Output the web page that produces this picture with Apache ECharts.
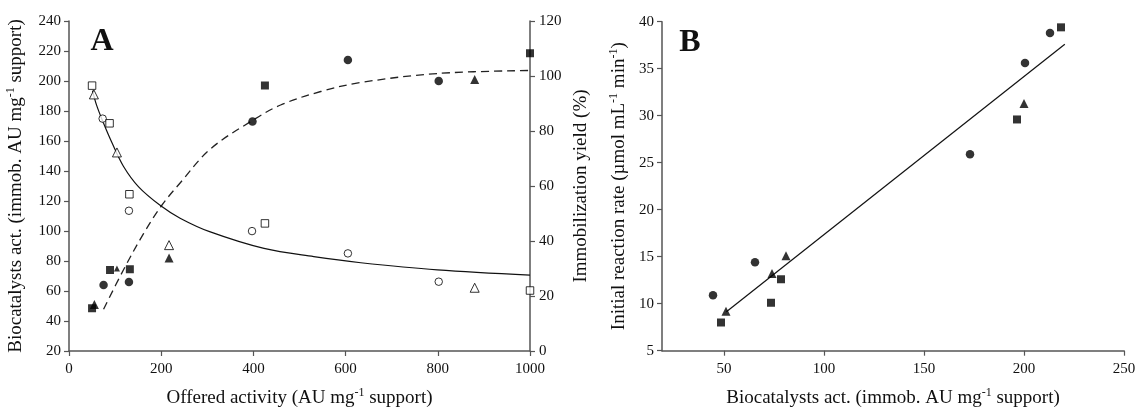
<!DOCTYPE html>
<html>
<head>
<meta charset="utf-8">
<script src="https://cdn.jsdelivr.net/npm/echarts@6/dist/echarts.min.js"></script>
<style>
html,body{margin:0;padding:0;background:#fff;}
#chart{width:1140px;height:410px;}
</style>
</head>
<body>
<div id="chart"></div>
<script>
// ---------- Panel A: biocatalyst activity (filled symbols, left axis) ----------
const actCircleX = [75, 130, 398, 605, 802];
const actCircleY = [64, 66, 173, 214, 200];
const actSquareX = [50, 89, 132, 425, 1000];
const actSquareY = [48.5, 74, 74.5, 197, 218.5];
const actTriX = [55, 104, 217, 880];
const actTriY = [51, 75, 82, 201];
// dashed fitted curve (left axis)
const actFitX = [75, 118, 162, 201, 241, 306, 397, 459, 546, 633, 799, 1000];
const actFitY = [47.8, 74, 98.4, 117, 132, 154.5, 173.5, 184, 193, 199, 205, 207];

// ---------- Panel A: immobilization yield (open symbols, right axis) ----------
const yldCircleX = [73, 130, 397, 605, 802];
const yldCircleY = [84.5, 51, 43.6, 35.5, 25.2];
const yldSquareX = [50, 88, 131, 425, 1000];
const yldSquareY = [96.5, 82.8, 57, 46.4, 22];
const yldTriX = [54, 104, 217, 880];
const yldTriY = [93.3, 72.2, 38.5, 23];
// solid fitted curve (right axis)
const yldFitX = [51, 60, 75, 93, 118, 151, 199, 241, 305, 423, 531, 633, 799, 1000];
const yldFitY = [94.7, 89.3, 82.8, 75.8, 67.2, 59.7, 52.8, 48.3, 43.4, 37.3, 34.3, 32.1, 29.5, 27.6];

// ---------- Panel B: initial reaction rate vs biocatalyst activity ----------
const rateCircleX = [44.5, 65.5, 173, 200.5, 213];
const rateCircleY = [10.9, 14.4, 25.9, 35.6, 38.8];
const rateSquareX = [48.5, 73.5, 78.5, 196.5, 218.5];
const rateSquareY = [8, 10.1, 12.6, 29.6, 39.4];
const rateTriX = [51, 74, 81, 200];
const rateTriY = [9.2, 13.2, 15.1, 31.3];
const rateFitX = [51.2, 220.4];
const rateFitY = [9.15, 37.6];

// tick labels
const aXTicks = [0, 200, 400, 600, 800, 1000];
const aLeftTicks = [20, 40, 60, 80, 100, 120, 140, 160, 180, 200, 220, 240];
const aRightTicks = [0, 20, 40, 60, 80, 100, 120];
const bXTicks = [50, 100, 150, 200, 250];
const bYTicks = [5, 10, 15, 20, 25, 30, 35, 40];

const FONT = '"Liberation Serif", "Times New Roman", serif';
const AX = '#555';
const TXT = '#111';

function pts(xs, ys) { return xs.map((x, i) => [x, ys[i]]); }
const plain = v => String(v);

const richName = {
  t: { fontSize: 19, fontFamily: FONT, color: TXT, lineHeight: 22 },
  s: { fontSize: 12, fontFamily: FONT, color: TXT, lineHeight: 22, verticalAlign: 'top' }
};

function axisBase(extra) {
  return Object.assign({
    axisLine: { show: true, onZero: false, lineStyle: { color: AX, width: 1.5 } },
    axisTick: { show: true, inside: false, length: 5, lineStyle: { color: AX, width: 1.2 } },
    axisLabel: { fontFamily: FONT, fontSize: 15, color: TXT, margin: 8, formatter: plain },
    splitLine: { show: false },
    nameLocation: 'middle',
    nameTextStyle: { rich: richName }
  }, extra);
}

function scatter(name, data, xi, yi, symbol, size, filled) {
  return {
    type: 'scatter', name: name, xAxisIndex: xi, yAxisIndex: yi,
    symbol: symbol, symbolSize: size, data: data, z: 5,
    itemStyle: filled ? { color: '#000', borderWidth: 0 }
                      : { color: '#fff', borderColor: '#000', borderWidth: 1 }
  };
}

const triAData = pts(actTriX, actTriY).map((p, i) => (i === 1 ? { value: p, symbolSize: 6 } : p));

const option = {
  animation: false,
  backgroundColor: '#fff',
  grid: [
    { left: 69, right: 610, top: 21, bottom: 59, containLabel: false, outerBoundsMode: 'none' },
    { left: 662, right: 16, top: 21.7, bottom: 59.3, containLabel: false, outerBoundsMode: 'none' }
  ],
  xAxis: [
    axisBase({
      gridIndex: 0, type: 'value', min: 0, max: 1000, interval: 200,
      axisLabel: { fontFamily: FONT, fontSize: 15, color: TXT, margin: 11, formatter: plain },
      name: '{t|Offered activity (AU mg}{s|-1}{t| support)}', nameGap: 36
    }),
    axisBase({
      gridIndex: 1, type: 'value', min: 19, max: 250,
      axisLabel: { fontFamily: FONT, fontSize: 15, color: TXT, margin: 11, customValues: bXTicks, formatter: plain },
      axisTick: { show: true, length: 5, lineStyle: { color: AX, width: 1.2 }, customValues: bXTicks },
      name: '{t|Biocatalysts act. (immob. AU mg}{s|-1}{t| support)}', nameGap: 36
    })
  ],
  yAxis: [
    axisBase({
      gridIndex: 0, type: 'value', min: 20, max: 240, interval: 20, position: 'left',
      name: '{t|Biocatalysts act. (immob. AU mg}{s|-1}{t| support)}', nameGap: 42
    }),
    axisBase({
      gridIndex: 0, type: 'value', min: 0, max: 120, interval: 20, position: 'right',
      axisLabel: { fontFamily: FONT, fontSize: 15, color: TXT, margin: 9, formatter: plain },
      name: '{t|Immobilization yield (%)}', nameGap: 40
    }),
    axisBase({
      gridIndex: 1, type: 'value', min: 5, max: 40, interval: 5, position: 'left',
      name: '{t|Initial reaction rate (µmol mL}{s|-1}{t| min}{s|-1}{t|)}', nameGap: 32
    })
  ],
  graphic: [
    { type: 'text', x: 102, y: 42, style: { text: 'A', font: 'bold 32px ' + FONT, fill: '#111', align: 'center', verticalAlign: 'middle' } },
    { type: 'text', x: 690, y: 43, style: { text: 'B', font: 'bold 32px ' + FONT, fill: '#111', align: 'center', verticalAlign: 'middle' } }
  ],
  series: [
    {
      type: 'line', name: 'act fit', xAxisIndex: 0, yAxisIndex: 0, data: pts(actFitX, actFitY),
      smooth: 0.35, showSymbol: false, symbol: 'none',
      lineStyle: { color: '#222', width: 1.3, type: [8, 5] }, z: 3
    },
    {
      type: 'line', name: 'yield fit', xAxisIndex: 0, yAxisIndex: 1, data: pts(yldFitX, yldFitY),
      smooth: 0.35, showSymbol: false, symbol: 'none',
      lineStyle: { color: '#111', width: 1.2 }, z: 3
    },
    scatter('act circle', pts(actCircleX, actCircleY), 0, 0, 'circle', 8.5, true),
    scatter('act square', pts(actSquareX, actSquareY), 0, 0, 'rect', 8, true),
    scatter('act tri', triAData, 0, 0, 'triangle', 9, true),
    scatter('yld circle', pts(yldCircleX, yldCircleY), 0, 1, 'circle', 7.5, false),
    scatter('yld square', pts(yldSquareX, yldSquareY), 0, 1, 'rect', 7.5, false),
    scatter('yld tri', pts(yldTriX, yldTriY), 0, 1, 'triangle', 9, false),
    {
      type: 'line', name: 'rate fit', xAxisIndex: 1, yAxisIndex: 2, data: pts(rateFitX, rateFitY),
      showSymbol: false, symbol: 'none', lineStyle: { color: '#111', width: 1.2 }, z: 3
    },
    scatter('rate circle', pts(rateCircleX, rateCircleY), 1, 2, 'circle', 8.5, true),
    scatter('rate square', pts(rateSquareX, rateSquareY), 1, 2, 'rect', 8, true),
    scatter('rate tri', pts(rateTriX, rateTriY), 1, 2, 'triangle', 9, true)
  ]
};

const chart = echarts.init(document.getElementById('chart'), null, { renderer: 'canvas' });
chart.setOption(option);
</script>
</body>
</html>
